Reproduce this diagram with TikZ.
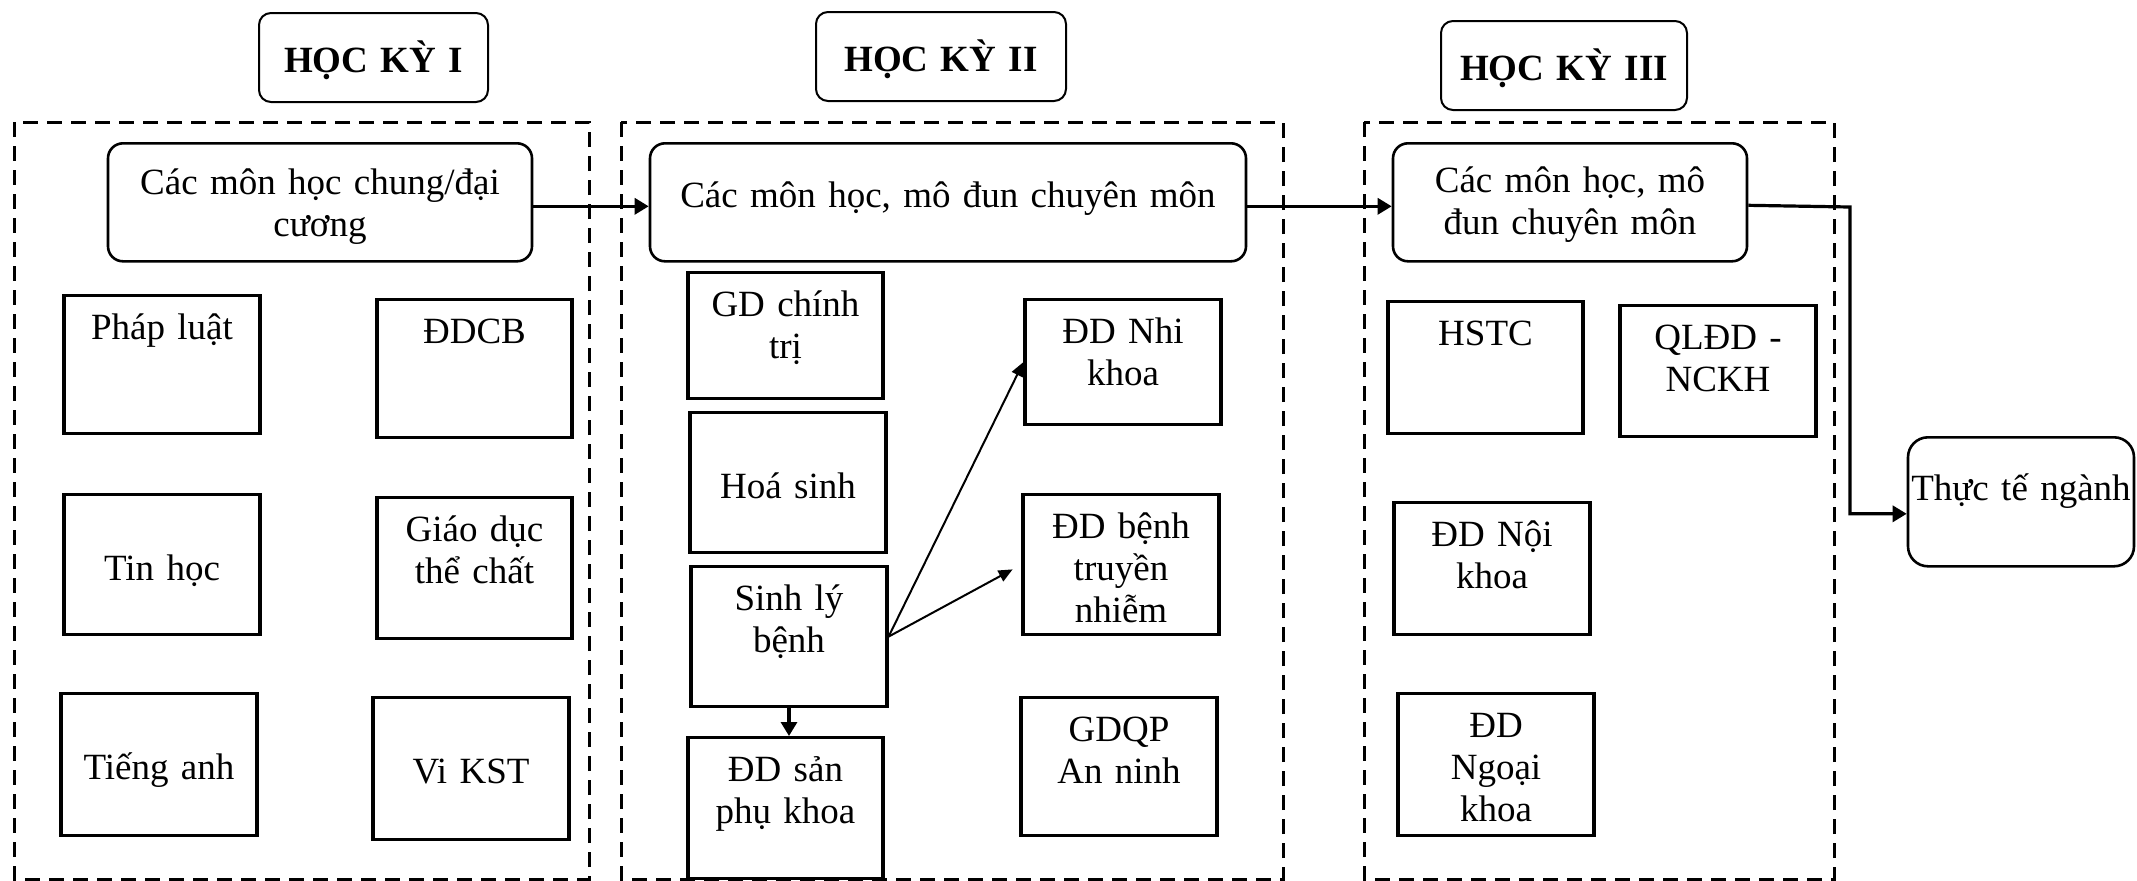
\documentclass[tikz,border=0pt]{standalone}
\usepackage{fontspec}
\setmainfont{Liberation Serif}
\usetikzlibrary{arrows.meta}

\begin{document}
\begin{tikzpicture}[x=0.5pt, y=-0.5pt, font=\fontsize{18.5pt}{21pt}\selectfont,
  subject/.style={draw, line width=1.6pt, anchor=north, inner sep=0pt, align=center, text height=21.75pt},
  low/.style={text height=42.75pt},
  group/.style={draw, line width=1.3pt, rounded corners=7.5pt, anchor=north, inner sep=0pt, align=center},
  term/.style={draw, line width=1pt, rounded corners=6pt, anchor=north, inner sep=0pt, align=center,
    font=\fontsize{18.5pt}{21pt}\selectfont\bfseries, text height=29.5pt, text depth=15pt},
  frame/.style={line width=1.5pt, dash pattern=on 7.5pt off 4.5pt},
  flow/.style={line width=1.6pt, -{Triangle[length=7pt, width=8pt]}},
  branch/.style={line width=1pt, -{Triangle[length=7pt, width=6pt]}}]
\useasboundingbox (0,0) rectangle (2137,880);

% khung hoc ky
\draw[frame] (14,122) rectangle (589,879);
\draw[frame] (621,122) rectangle (1283,879);
\draw[frame] (1364,122) rectangle (1834,879);

\node[term, text width=114.5pt] (hk1) at (373.5,12) {HỌC KỲ I};
\node[term, text width=125pt] (hk2) at (941,11) {HỌC KỲ II};
\node[term, text width=123pt] (hk3) at (1564,20) {HỌC KỲ III};

% nhom mon
\node[group, text width=212pt, text height=25.5pt, text depth=33.5pt] (mon1) at (320,142)
  {Các môn học chung/đại\\cương};
\node[group, text width=298pt, text height=32pt, text depth=27pt] (mon2) at (948,142)
  {Các môn học, mô đun chuyên môn};
\node[group, text width=177pt, text height=24.5pt, text depth=34.5pt] (mon3) at (1570,142)
  {Các môn học, mô\\đun chuyên môn};
\node[group, rounded corners=10pt, text width=113pt, text height=31.5pt, text depth=33pt] (thucte) at (2021,436)
  {Thực tế ngành};

% hoc ky I
\node[subject, text width=98pt, text depth=47.25pt] (pl) at (162,294) {Pháp luật};
\node[subject, text width=97.5pt, text depth=47.25pt] (ddcb) at (474.5,298) {ĐDCB};
\node[subject, low, text width=98pt, text depth=27.25pt] (th) at (162,493) {Tin học};
\node[subject, text width=97.5pt, text depth=48.75pt] (gdtc) at (474.5,496) {Giáo dục\\thể chất};
\node[subject, low, text width=98pt, text depth=28.25pt] (ta) at (159,692) {Tiếng anh};
\node[subject, low, text width=98pt, text depth=28.25pt] (vk) at (471,696) {Vi KST};

% hoc ky II
\node[subject, text width=97.5pt, text depth=41.25pt] (gdct) at (785.5,271) {GD chính\\trị};
\node[subject, low, text width=98pt, text depth=27.25pt] (hs) at (788,411) {Hoá sinh};
\node[subject, text width=98pt, text depth=48.25pt] (sl) at (789,565) {Sinh lý\\bệnh};
\node[subject, text width=97.5pt, text depth=48.75pt] (dds) at (785.5,736) {ĐD sản\\phụ khoa};
\node[subject, text width=98pt, text depth=40.75pt] (ddn) at (1123,298) {ĐD Nhi\\khoa};
\node[subject, text width=98pt, text depth=48.25pt] (ddb) at (1121,493) {ĐD bệnh\\truyền\\nhiễm};
\node[subject, text width=98pt, text depth=47.25pt] (gdqp) at (1119,696) {GDQP\\An ninh};

% hoc ky III
\node[subject, text width=97.5pt, text depth=44.25pt] (hstc) at (1485.5,300) {HSTC};
\node[subject, text width=98pt, text depth=43.75pt] (ql) at (1718,304) {QLĐD -\\NCKH};
\node[subject, text width=98pt, text depth=44.25pt] (ddnk) at (1492,501) {ĐD Nội\\khoa};
\node[subject, text width=98pt, text depth=49.25pt] (ddng) at (1496,692) {ĐD\\Ngoại\\khoa};

% mui ten
\draw[flow] ([yshift=-2pt]mon1.east) -- ([yshift=-2pt]mon2.west);
\draw[flow] ([yshift=-2pt]mon2.east) -- ([yshift=-2pt]mon3.west);
\coordinate (turn) at (1850,207);
\draw[flow] ([yshift=-1.5pt]mon3.east) -- (turn) |- ([yshift=-6pt]thucte.west);
\draw[flow] (sl.south) -- (sl.south |- dds.north);
\draw[branch] (sl.east) -- (ddn.west);
\draw[branch, shorten >=5pt] (sl.east) -- (ddb.west);
\end{tikzpicture}
\end{document}
